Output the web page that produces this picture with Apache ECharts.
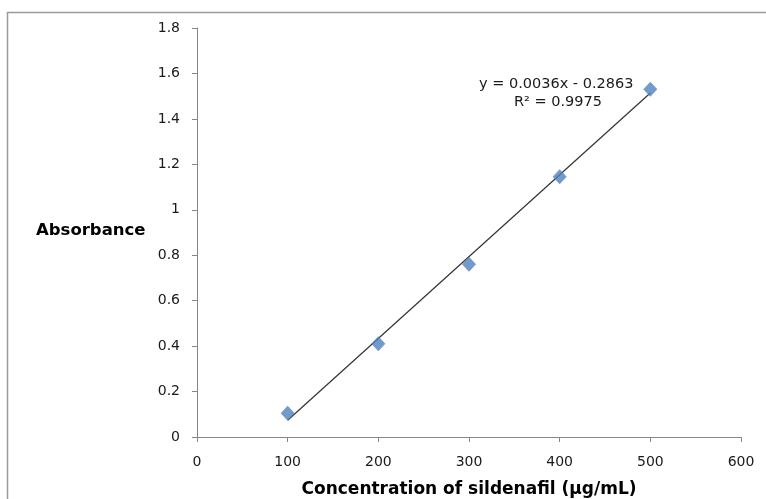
<!DOCTYPE html>
<html>
<head>
<meta charset="utf-8">
<script src="https://cdn.jsdelivr.net/npm/echarts@6/dist/echarts.min.js"></script>
<style>
  html, body { margin: 0; padding: 0; background: #fff; }
  #chart { width: 766px; height: 499px; }
</style>
</head>
<body>
<div id="chart"></div>
<script>
// concentration (µg/mL) vs absorbance
const concentrations = [100, 200, 300, 400, 500];
const absorbance = [0.105, 0.41, 0.76, 1.145, 1.53];
const slope = 0.0036;
const intercept = -0.2863;
const trendX = [100, 500];
const equationLines = ['y = 0.0036x - 0.2863', 'R² = 0.9975'];

const chart = echarts.init(document.getElementById('chart'));
const option = {
    animation: false,
    grid: { left: 197, right: 25, top: 28, bottom: 62, outerBoundsMode: 'none' },
    xAxis: {
        type: 'value',
        min: 0, max: 600, interval: 100,
        name: 'Concentration of sildenafil (µg/mL)',
        nameLocation: 'middle',
        nameGap: 44,
        nameTextStyle: { fontFamily: 'DejaVu Sans', fontWeight: 'bold', fontSize: 17, color: '#000' },
        axisLine: { lineStyle: { color: '#868686' } },
        axisTick: { length: 5, lineStyle: { color: '#868686' } },
        axisLabel: { fontFamily: 'DejaVu Sans', fontSize: 14, color: '#1a1a1a', margin: 18 },
        splitLine: { show: false }
    },
    yAxis: {
        type: 'value',
        min: 0, max: 1.8, interval: 0.2,
        axisLine: { show: true, lineStyle: { color: '#868686' } },
        axisTick: { show: true, length: 5, lineStyle: { color: '#868686' } },
        axisLabel: { fontFamily: 'DejaVu Sans', fontSize: 14, color: '#1a1a1a', margin: 17 },
        splitLine: { show: false }
    },
    graphic: [
        { type: 'rect', shape: { x: 7.5, y: 12.5, width: 800, height: 600 },
          style: { fill: 'none', stroke: '#9a9a9a', lineWidth: 1.5 }, silent: true },
        { type: 'text', left: 36, top: 222,
          style: { text: 'Absorbance', font: 'bold 16.5px "DejaVu Sans"', fill: '#000' } },
        { type: 'text', left: 479, top: 77,
          style: { text: equationLines[0], font: '14.5px "DejaVu Sans"', fill: '#1a1a1a' } },
        { type: 'text', left: 514, top: 95,
          style: { text: equationLines[1], font: '14.5px "DejaVu Sans"', fill: '#1a1a1a' } }
    ],
    series: [
        {
            type: 'line',
            data: trendX.map(x => [x, slope * x + intercept]),
            symbol: 'none',
            lineStyle: { color: '#333', width: 1.2 },
            z: 1
        },
        {
            type: 'scatter',
            data: concentrations.map((c, i) => [c, absorbance[i]]),
            symbol: 'diamond',
            symbolSize: [14, 15],
            itemStyle: { color: '#4F81BD' },
            z: 2
        }
    ]
};
chart.setOption(option);
</script>
</body>
</html>
